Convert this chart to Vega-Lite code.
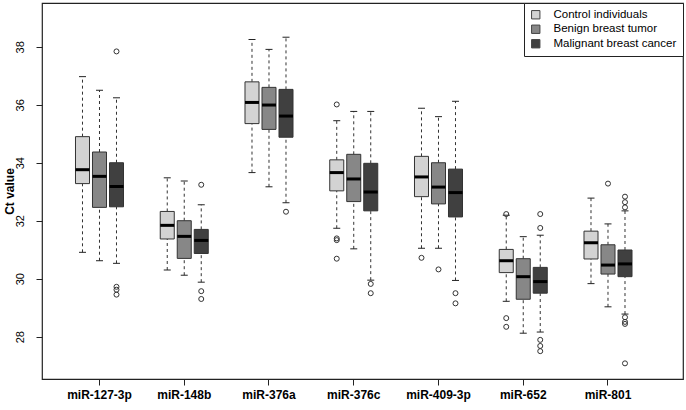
{
  "$schema": "https://vega.github.io/schema/vega-lite/v6.json",
  "autosize": {"type": "none"},
  "padding": {"left": 42, "top": 3, "right": 3, "bottom": 31},
  "width": 641,
  "height": 376,
  "background": "white",
  "config": {
    "font": "Liberation Sans",
    "view": {"stroke": "#222", "strokeWidth": 1.2},
    "axis": {"labelColor": "#000", "tickColor": "#222", "titleColor": "#000", "labelFont": "Liberation Sans", "titleFont": "Liberation Sans"},
    "legend": {
      "orient": "top-right", "offset": 0, "strokeColor": "#222", "fillColor": "white",
      "padding": 6, "labelFont": "Liberation Sans", "labelFontSize": 11.5, "labelColor": "#000",
      "symbolType": "square", "symbolSize": 70, "symbolStrokeColor": "#444", "symbolStrokeWidth": 1,
      "rowPadding": 1.5, "labelOffset": 12, "cornerRadius": 0
    }
  },
  "datasets": {
    "boxes": [
      {"gene": "miR-127-3p", "group": "Control individuals", "lower": 30.91, "q1": 33.28, "median": 33.76, "q3": 34.9, "upper": 36.97},
      {"gene": "miR-127-3p", "group": "Benign breast tumor", "lower": 30.62, "q1": 32.46, "median": 33.53, "q3": 34.37, "upper": 36.5},
      {"gene": "miR-127-3p", "group": "Malignant breast cancer", "lower": 30.53, "q1": 32.48, "median": 33.18, "q3": 34.0, "upper": 36.24},
      {"gene": "miR-148b", "group": "Control individuals", "lower": 30.3, "q1": 31.37, "median": 31.84, "q3": 32.32, "upper": 33.48},
      {"gene": "miR-148b", "group": "Benign breast tumor", "lower": 30.12, "q1": 30.7, "median": 31.46, "q3": 32.0, "upper": 33.37},
      {"gene": "miR-148b", "group": "Malignant breast cancer", "lower": 29.88, "q1": 30.87, "median": 31.32, "q3": 31.7, "upper": 32.55},
      {"gene": "miR-376a", "group": "Control individuals", "lower": 33.66, "q1": 35.35, "median": 36.08, "q3": 36.79, "upper": 38.25},
      {"gene": "miR-376a", "group": "Benign breast tumor", "lower": 33.17, "q1": 35.15, "median": 35.99, "q3": 36.6, "upper": 37.91},
      {"gene": "miR-376a", "group": "Malignant breast cancer", "lower": 32.62, "q1": 34.88, "median": 35.61, "q3": 36.53, "upper": 38.33},
      {"gene": "miR-376c", "group": "Control individuals", "lower": 31.74, "q1": 33.03, "median": 33.66, "q3": 34.1, "upper": 35.45},
      {"gene": "miR-376c", "group": "Benign breast tumor", "lower": 31.03, "q1": 32.66, "median": 33.44, "q3": 34.29, "upper": 35.77},
      {"gene": "miR-376c", "group": "Malignant breast cancer", "lower": 29.95, "q1": 32.34, "median": 32.99, "q3": 33.98, "upper": 35.77},
      {"gene": "miR-409-3p", "group": "Control individuals", "lower": 31.05, "q1": 32.83, "median": 33.51, "q3": 34.22, "upper": 35.88},
      {"gene": "miR-409-3p", "group": "Benign breast tumor", "lower": 31.05, "q1": 32.58, "median": 33.16, "q3": 34.0, "upper": 35.59},
      {"gene": "miR-409-3p", "group": "Malignant breast cancer", "lower": 29.94, "q1": 32.13, "median": 32.97, "q3": 33.78, "upper": 36.12},
      {"gene": "miR-652", "group": "Control individuals", "lower": 29.22, "q1": 30.21, "median": 30.62, "q3": 31.01, "upper": 32.19},
      {"gene": "miR-652", "group": "Benign breast tumor", "lower": 28.12, "q1": 29.29, "median": 30.07, "q3": 30.69, "upper": 31.45},
      {"gene": "miR-652", "group": "Malignant breast cancer", "lower": 28.16, "q1": 29.5, "median": 29.9, "q3": 30.39, "upper": 31.5},
      {"gene": "miR-801", "group": "Control individuals", "lower": 29.83, "q1": 30.68, "median": 31.24, "q3": 31.64, "upper": 32.78},
      {"gene": "miR-801", "group": "Benign breast tumor", "lower": 29.03, "q1": 30.16, "median": 30.47, "q3": 31.17, "upper": 31.89},
      {"gene": "miR-801", "group": "Malignant breast cancer", "lower": 28.78, "q1": 30.07, "median": 30.51, "q3": 30.99, "upper": 32.34}
    ],
    "outliers": [
      {"gene": "miR-127-3p", "group": "Malignant breast cancer", "value": 37.84},
      {"gene": "miR-127-3p", "group": "Malignant breast cancer", "value": 29.72},
      {"gene": "miR-127-3p", "group": "Malignant breast cancer", "value": 29.62},
      {"gene": "miR-127-3p", "group": "Malignant breast cancer", "value": 29.45},
      {"gene": "miR-148b", "group": "Malignant breast cancer", "value": 33.24},
      {"gene": "miR-148b", "group": "Malignant breast cancer", "value": 29.57},
      {"gene": "miR-148b", "group": "Malignant breast cancer", "value": 29.3},
      {"gene": "miR-376a", "group": "Malignant breast cancer", "value": 32.31},
      {"gene": "miR-376c", "group": "Control individuals", "value": 36.01},
      {"gene": "miR-376c", "group": "Control individuals", "value": 31.39},
      {"gene": "miR-376c", "group": "Control individuals", "value": 31.33},
      {"gene": "miR-376c", "group": "Control individuals", "value": 30.69},
      {"gene": "miR-376c", "group": "Malignant breast cancer", "value": 29.82},
      {"gene": "miR-376c", "group": "Malignant breast cancer", "value": 29.5},
      {"gene": "miR-409-3p", "group": "Control individuals", "value": 30.72},
      {"gene": "miR-409-3p", "group": "Benign breast tumor", "value": 30.32},
      {"gene": "miR-409-3p", "group": "Malignant breast cancer", "value": 29.5},
      {"gene": "miR-409-3p", "group": "Malignant breast cancer", "value": 29.15},
      {"gene": "miR-652", "group": "Control individuals", "value": 32.23},
      {"gene": "miR-652", "group": "Control individuals", "value": 28.64},
      {"gene": "miR-652", "group": "Control individuals", "value": 28.34},
      {"gene": "miR-652", "group": "Malignant breast cancer", "value": 32.23},
      {"gene": "miR-652", "group": "Malignant breast cancer", "value": 31.75},
      {"gene": "miR-652", "group": "Malignant breast cancer", "value": 27.89},
      {"gene": "miR-652", "group": "Malignant breast cancer", "value": 27.68},
      {"gene": "miR-652", "group": "Malignant breast cancer", "value": 27.5},
      {"gene": "miR-801", "group": "Benign breast tumor", "value": 33.28},
      {"gene": "miR-801", "group": "Malignant breast cancer", "value": 32.83},
      {"gene": "miR-801", "group": "Malignant breast cancer", "value": 32.64},
      {"gene": "miR-801", "group": "Malignant breast cancer", "value": 32.46},
      {"gene": "miR-801", "group": "Malignant breast cancer", "value": 28.67},
      {"gene": "miR-801", "group": "Malignant breast cancer", "value": 28.51},
      {"gene": "miR-801", "group": "Malignant breast cancer", "value": 28.44},
      {"gene": "miR-801", "group": "Malignant breast cancer", "value": 27.08}
    ]
  },
  "data": {"name": "boxes"},
  "encoding": {
    "x": {
      "field": "gene", "type": "nominal",
      "sort": ["miR-127-3p", "miR-148b", "miR-376a", "miR-376c", "miR-409-3p", "miR-652", "miR-801"],
      "scale": {"paddingInner": 0.4, "paddingOuter": 0.4817, "align": 0.3928},
      "axis": {"title": null, "labelAngle": 0, "labelFontWeight": "bold", "labelFontSize": 12, "tickSize": 6, "domain": false, "labelPadding": 4}
    },
    "xOffset": {
      "field": "group", "type": "nominal",
      "sort": ["Control individuals", "Benign breast tumor", "Malignant breast cancer"],
      "scale": {"paddingInner": 0.176, "paddingOuter": 0.0836}
    }
  },
  "layer": [
    {
      "mark": {"type": "rule", "strokeDash": [3, 3], "color": "#333", "strokeWidth": 1},
      "encoding": {
        "y": {"field": "lower", "type": "quantitative", "scale": {"domain": [26.54, 39.51], "nice": false, "zero": false},
          "axis": {"title": "Ct value", "values": [28, 30, 32, 34, 36, 38], "grid": false, "domain": false, "tickSize": 6,
            "labelAngle": -90, "labelAlign": "center", "labelBaseline": "bottom", "labelPadding": 11, "labelFontSize": 11,
            "titleFontSize": 12, "titleFontWeight": "bold", "titlePadding": -2}},
        "y2": {"field": "q1"}
      }
    },
    {
      "mark": {"type": "rule", "strokeDash": [3, 3], "color": "#333", "strokeWidth": 1},
      "encoding": {"y": {"field": "q3", "type": "quantitative"}, "y2": {"field": "upper"}}
    },
    {
      "mark": {"type": "tick", "size": 7, "thickness": 1, "color": "#222", "opacity": 1},
      "encoding": {"y": {"field": "lower", "type": "quantitative"}}
    },
    {
      "mark": {"type": "tick", "size": 7, "thickness": 1, "color": "#222", "opacity": 1},
      "encoding": {"y": {"field": "upper", "type": "quantitative"}}
    },
    {
      "mark": {"type": "bar", "stroke": "#333", "strokeWidth": 1},
      "encoding": {
        "y": {"field": "q1", "type": "quantitative"},
        "y2": {"field": "q3"},
        "fill": {"field": "group", "type": "nominal",
          "sort": ["Control individuals", "Benign breast tumor", "Malignant breast cancer"],
          "scale": {"domain": ["Control individuals", "Benign breast tumor", "Malignant breast cancer"], "range": ["#d3d3d3", "#878787", "#404040"]},
          "legend": {"title": null}}
      }
    },
    {
      "mark": {"type": "tick", "size": 14, "thickness": 3, "color": "#000", "opacity": 1},
      "encoding": {"y": {"field": "median", "type": "quantitative"}}
    },
    {
      "data": {"name": "outliers"},
      "mark": {"type": "point", "shape": "circle", "filled": false, "stroke": "#333", "strokeWidth": 1, "size": 25, "opacity": 1},
      "encoding": {"y": {"field": "value", "type": "quantitative"}}
    }
  ]
}
